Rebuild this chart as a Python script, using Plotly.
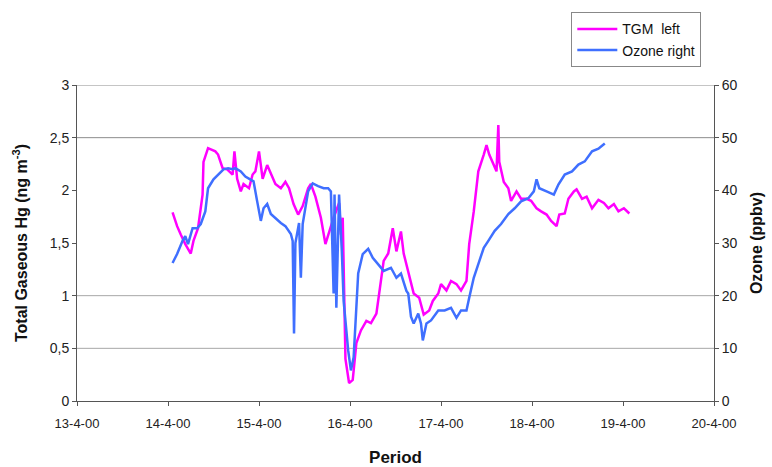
import pandas as pd
import plotly.graph_objects as go

# Day of April 2000 (fractional) and values
tgm_day = [14.05, 14.10, 14.14, 14.19, 14.25, 14.28, 14.33, 14.38, 14.39, 14.44, 14.52, 14.55, 14.60, 14.65,
           14.71, 14.73, 14.76, 14.80, 14.83, 14.89, 14.93, 14.96, 15.00, 15.04, 15.09, 15.15, 15.18,
           15.24, 15.29, 15.33, 15.38, 15.43, 15.48, 15.54, 15.57, 15.62, 15.68, 15.73, 15.77, 15.82,
           15.88, 15.90, 15.92, 15.93, 15.95, 15.99, 16.03, 16.07, 16.12, 16.18, 16.23, 16.29, 16.34,
           16.37, 16.42, 16.47, 16.51, 16.56, 16.59, 16.65, 16.70, 16.76, 16.81, 16.87, 16.91, 16.97,
           17.00, 17.06, 17.11, 17.17, 17.22, 17.28, 17.31, 17.36, 17.41, 17.47, 17.50, 17.53, 17.58,
           17.61, 17.63, 17.64, 17.69, 17.74, 17.77, 17.83, 17.88, 17.94, 17.99, 18.05, 18.10, 18.16,
           18.21, 18.27, 18.30, 18.36, 18.40, 18.46, 18.49, 18.55, 18.60, 18.66, 18.73, 18.79, 18.84,
           18.90, 18.95, 19.01, 19.07]
tgm_val = [1.79, 1.66, 1.58, 1.49, 1.40, 1.52, 1.64, 1.96, 2.27, 2.40, 2.37, 2.34, 2.21, 2.20,
           2.15, 2.37, 2.11, 1.99, 2.06, 2.02, 2.15, 2.18, 2.37, 2.11, 2.24, 2.11, 2.06,
           2.02, 2.08, 2.02, 1.87, 1.77, 1.85, 2.02, 2.06, 1.94, 1.74, 1.49, 1.60, 1.74,
           1.88, 1.58, 1.74, 1.17, 0.40, 0.17, 0.20, 0.55, 0.67, 0.76, 0.74, 0.83, 1.17,
           1.33, 1.40, 1.64, 1.42, 1.61, 1.40, 1.20, 1.02, 0.98, 0.82, 0.86, 0.95, 1.02,
           1.11, 1.05, 1.14, 1.11, 1.05, 1.14, 1.49, 1.80, 2.18, 2.34, 2.43, 2.34, 2.24,
           2.18, 2.62, 2.27, 2.08, 2.02, 1.90, 1.99, 1.92, 1.92, 1.90, 1.83, 1.80, 1.77,
           1.71, 1.66, 1.77, 1.78, 1.92, 1.99, 2.01, 1.92, 1.94, 1.83, 1.91, 1.88, 1.83,
           1.87, 1.80, 1.83, 1.78]

ozone_day = [14.05, 14.10, 14.16, 14.19, 14.22, 14.27, 14.32, 14.36, 14.41, 14.44, 14.50, 14.55,
             14.61, 14.66, 14.71, 14.74, 14.80, 14.85, 14.91, 14.94, 14.98, 15.02, 15.05, 15.09,
             15.13, 15.18, 15.24, 15.29, 15.35, 15.37, 15.385, 15.40, 15.44, 15.46, 15.48, 15.54,
             15.59, 15.65, 15.71, 15.76, 15.79, 15.82, 15.83, 15.85, 15.88, 15.91, 15.93, 15.98,
             16.01, 16.04, 16.09, 16.14, 16.20, 16.25, 16.32, 16.37, 16.45, 16.51, 16.56, 16.62,
             16.64, 16.67, 16.70, 16.75, 16.78, 16.80, 16.84, 16.89, 16.97, 17.04, 17.11, 17.17,
             17.22, 17.28, 17.31, 17.36, 17.41, 17.47, 17.52, 17.59, 17.66, 17.74, 17.81, 17.88,
             17.96, 18.02, 18.05, 18.08, 18.16, 18.24, 18.29, 18.36, 18.44, 18.51, 18.58, 18.66,
             18.73, 18.80]
ozone_val = [26.2, 27.9, 30.4, 31.3, 29.8, 32.8, 32.8, 33.6, 36.0, 40.4, 42.1, 43.0,
             44.0, 44.2, 44.0, 44.2, 43.6, 42.6, 42.1, 41.7, 37.9, 34.2, 36.6, 37.4,
             35.5, 34.7, 33.8, 33.2, 31.7, 30.4, 12.8, 30.0, 33.8, 23.4, 33.6, 39.8,
             41.3, 40.8, 40.4, 40.4, 39.8, 20.4, 39.2, 17.7, 39.2, 28.5, 19.0, 9.6,
             5.8, 8.3, 24.2, 27.9, 28.9, 27.2, 25.7, 24.7, 25.3, 23.4, 24.2, 20.9,
             20.4, 16.0, 14.7, 16.6, 14.7, 11.5, 14.7, 15.3, 17.2, 17.2, 17.7, 15.8,
             17.2, 17.2, 19.6, 23.4, 26.0, 29.1, 30.4, 32.3, 33.6, 35.5, 36.6, 37.9,
             38.5, 39.8, 42.1, 40.4, 39.8, 39.2, 41.1, 43.0, 43.6, 44.9, 45.5, 47.4,
             47.9, 48.9]

x_tick_days = [13, 14, 15, 16, 17, 18, 19, 20]
x_tick_text = ["13-4-00", "14-4-00", "15-4-00", "16-4-00", "17-4-00", "18-4-00", "19-4-00", "20-4-00"]
y_left_ticks = [0, 0.5, 1, 1.5, 2, 2.5, 3]
y_left_text = ["0", "0,5", "1", "1,5", "2", "2,5", "3"]
y_right_ticks = [0, 10, 20, 30, 40, 50, 60]
grid_levels = [0.5, 1, 2.5, 3]

base = pd.Timestamp("2000-04-01")
def to_dt(days):
    return [base + pd.to_timedelta(d - 1, unit="D") for d in days]

FONT = "Liberation Sans, Arial, sans-serif"
fig = go.Figure()
fig.add_trace(go.Scatter(x=to_dt(tgm_day), y=tgm_val, mode="lines", name="TGM  left",
                         line=dict(color="#ff00ff", width=2.5)))
fig.add_trace(go.Scatter(x=to_dt(ozone_day), y=ozone_val, mode="lines", name="Ozone right",
                         yaxis="y2", line=dict(color="#3f6fff", width=2.5)))

for g in grid_levels:
    fig.add_shape(type="line", xref="paper", x0=0, x1=1, yref="y", y0=g, y1=g,
                  line=dict(color="#a8a8a8" if g < 2 else "#8c8c8c", width=1), layer="below")

fig.update_layout(
    width=772, height=467,
    margin=dict(l=77, r=58, t=83, b=66),
    paper_bgcolor="white", plot_bgcolor="white",
    font=dict(family=FONT, size=13, color="#222"),
    showlegend=True,
    legend=dict(x=0.776, y=1.23, xanchor="left", yanchor="top",
                bordercolor="#888", borderwidth=1, bgcolor="white",
                font=dict(size=14, color="#111"), tracegroupgap=0,
                itemwidth=40),
    xaxis=dict(range=[to_dt([13])[0], to_dt([20])[0]], automargin=False,
               tickvals=to_dt(x_tick_days), ticktext=x_tick_text,
               showgrid=False, showline=True, linecolor="#555", linewidth=1,
               ticks="outside", ticklen=4, tickcolor="#555", ticklabelstandoff=6,
               tickfont=dict(size=13, color="#222"),
               title=dict(text="<b>Period</b>", font=dict(size=17, color="#111"), standoff=22),
               zeroline=False),
    yaxis=dict(range=[0, 3], tickvals=y_left_ticks, ticktext=y_left_text, automargin=False,
               showgrid=False, showline=True, linecolor="#555", linewidth=1,
               ticks="outside", ticklen=4, tickcolor="#555",
               tickfont=dict(size=14, color="#222"),
               title=dict(text="<b>Total Gaseous Hg (ng m<sup>-3</sup>)</b>",
                          font=dict(size=16, color="#111"), standoff=18),
               zeroline=False),
    yaxis2=dict(range=[0, 60], tickvals=y_right_ticks, overlaying="y", side="right",
                automargin=False,
                showgrid=False, showline=True, linecolor="#555", linewidth=1,
                ticks="outside", ticklen=4, tickcolor="#555",
                tickfont=dict(size=14, color="#222"),
                title=dict(text="<b>Ozone (ppbv)</b>", font=dict(size=16, color="#111"), standoff=14),
                zeroline=False),
)

fig.write_html("out.html")
